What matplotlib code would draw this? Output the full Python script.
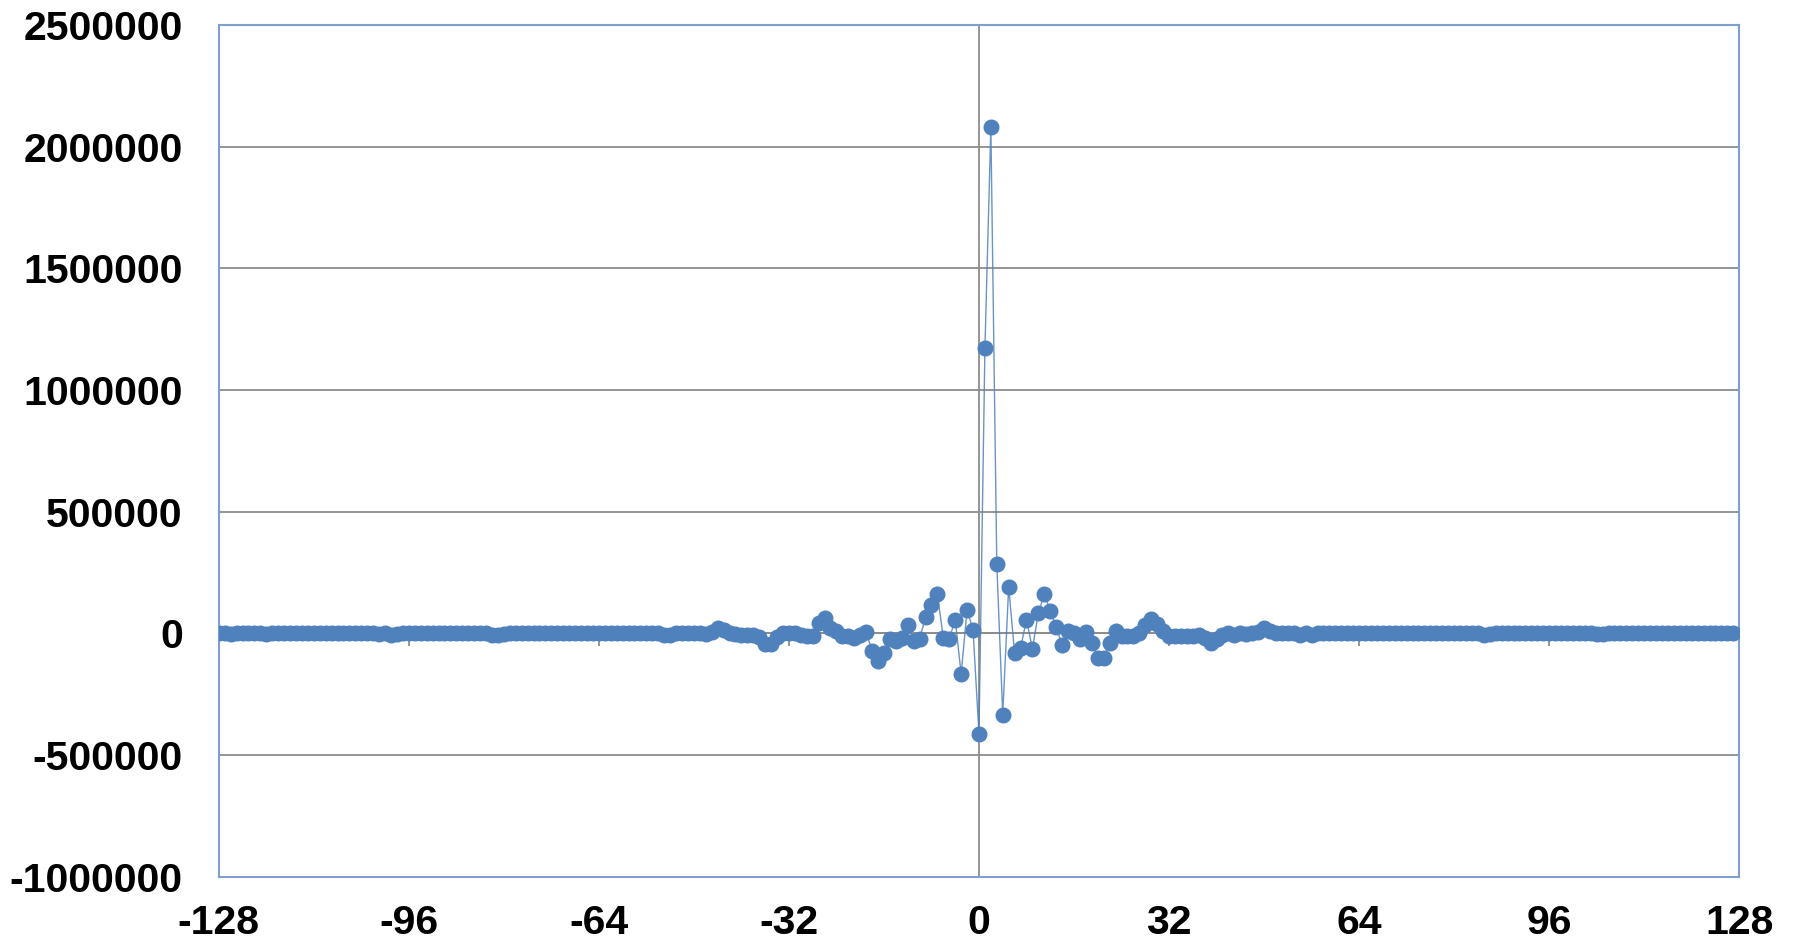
import numpy as np
import matplotlib.pyplot as plt
from matplotlib.markers import TICKDOWN

# Sample index (-128 .. 127)
idx = np.arange(-128, 128)

# Response values, one per sample
left_tail = [
    0, 0, -1000, 0, 0, 1000, 0, 0, -1000, 0, 0, 0, 0, 0, 0, 0,          # -128 .. -113
    0, 0, 1000, 0, 0, 0, 0, 0, 0, 0, 0, -1000, 0, -5000, -4000, 0,     # -112 .. -97
    0, 1000, 0, 0, 0, 0, 0, 0, 0, 0, 0, 0, 0, 0, -5000, -6000,         # -96 .. -81
    -3000, 0, 0, 1000, 0, 0, 0, 0, 0, 0, 0, 0, 0, 0, 0, 0,             # -80 .. -65
    0, 0, 0, 0, 0, 0, 0, 0, 0, 0, 0, -6000, -8000, 0, 0, 0,            # -64 .. -49
    0, 0, -2000, 4000, 22000, 12000, 3000, -4000,                      # -48 .. -41
]
center = [
    -5000, -5000, -5000, -15000, -45000, -45000, -15000, 0,            # -40 .. -33
    0, 0, -5000, -10000, -10000, 42000, 63000, 20000,                  # -32 .. -25
    10000, -10000, -10000, -20000, -5000, 5000, -71000, -115000,       # -24 .. -17
    -81000, -25000, -33000, -20000, 36000, -33000, -22000, 66000,      # -16 .. -9
    115000, 161000, -19000, -22000, 56000, -167000, 97000, 15000,      # -8 .. -1
    -414000, 1172000, 2079000, 285000, -334000, 190000, -81000, -60000,  # 0 .. 7
    56000, -63000, 83000, 161000, 93000, 25000, -46000, 8000,          # 8 .. 15
    0, -25000, 4000, -40000, -100000, -100000, -40000, 8000,           # 16 .. 23
    -10000, -10000, -10000, 0, 35000, 60000, 40000, 10000,             # 24 .. 31
    -10000, -10000, -10000, -10000, -12000, -5000, -20000, -40000,     # 32 .. 39
    -25000,                                                            # 40
]
right_tail = [
    -5000, 0, -5000, 0, -3000, 0, 5000, 20000, 10000, 3000, 0, 0, 0, -8000, 0,  # 41 .. 55
    -6000, 0, 0, 0, 0, 0, 0, 0, 0, 0, 0, 0, 0, 0, 0, 0,                # 56 .. 71
    0, 0, 0, 0, 0, 0, 0, 0, 0, 0, 0, 0, 0, -5000, -4000, 0,            # 72 .. 87
    0, 0, 0, 0, 0, 0, 0, 0, 0, 0, 0, 0, 0, 0, 0, 0,                    # 88 .. 103
    -4000, -3000, 0, 0, 0, 0, 0, 0, 0, 0, 0, 0, 0, 0, 0, 0,            # 104 .. 119
    0, 0, 0, 0, 0, 0, 0, 0,                                            # 120 .. 127
]
values = np.array(left_tail + center + right_tail, dtype=float)

xticks = np.arange(-128, 129, 32)
yticks = np.arange(-1000000, 2500001, 500000)

blue = '#4f81bd'
grid_gray = '#8c8c8c'
frame_blue = '#7f9fcf'

fig = plt.figure(figsize=(17.93, 9.43), dpi=100)
ax = fig.add_axes([0.122, 0.0703, 0.848, 0.9032])

ax.plot(idx, values, color=blue, lw=1.0, alpha=0.85, zorder=3)
ax.plot(idx, values, ls='none', marker='o', ms=10.5, color=blue, zorder=4)

ax.set_xlim(-128, 128)
ax.set_ylim(-1000000, 2500000)
ax.set_xticks(xticks)
ax.set_yticks(yticks)
ax.set_xticklabels([str(t) for t in xticks])
ax.set_yticklabels([str(t) for t in yticks])

ax.grid(axis='y', color=grid_gray, lw=1.3)
ax.set_axisbelow(True)
ax.axvline(0, color=grid_gray, lw=1.3, zorder=1)
ax.axhline(0, color=grid_gray, lw=1.3, zorder=1)
# small tick marks hanging below the zero line
ax.plot(xticks, np.zeros_like(xticks), ls='none', marker=TICKDOWN,
        ms=9, mew=1.3, color=grid_gray, zorder=1, clip_on=False)

for s in ax.spines.values():
    s.set_color(frame_blue)
    s.set_linewidth(1.5)

ax.tick_params(length=0, labelsize=29.5)
ax.tick_params(axis='y', pad=26)
ax.tick_params(axis='x', pad=20)
for lab in ax.get_xticklabels() + ax.get_yticklabels():
    lab.set_fontfamily('Liberation Sans')
    lab.set_fontweight('bold')

fig.savefig('out.png', dpi=100)
